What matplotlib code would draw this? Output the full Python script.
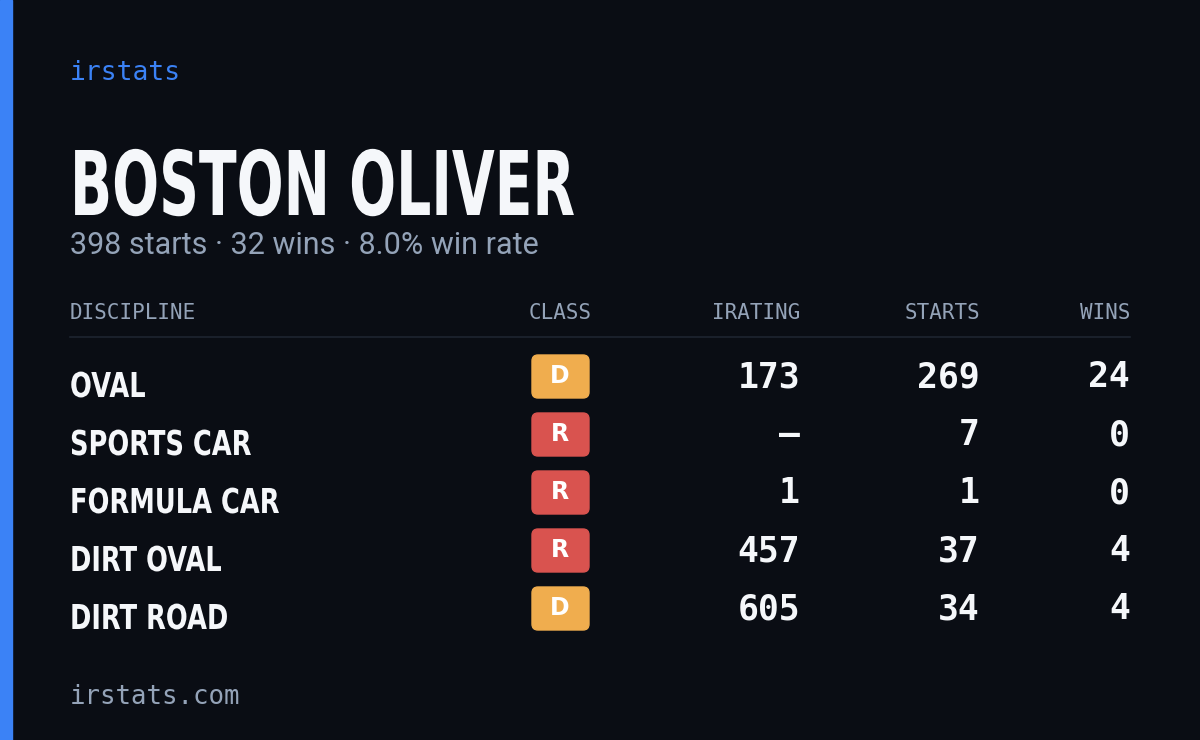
import matplotlib
matplotlib.use('Agg')
import matplotlib.pyplot as plt
from matplotlib.patches import FancyBboxPatch, Rectangle, PathPatch
from matplotlib.textpath import TextPath
from matplotlib.font_manager import FontProperties
from matplotlib.transforms import Affine2D

# data
driver = 'BOSTON OLIVER'
total_starts = 398
total_wins = 32
disciplines = ['OVAL', 'SPORTS CAR', 'FORMULA CAR', 'DIRT OVAL', 'DIRT ROAD']
classes = ['D', 'R', 'R', 'R', 'D']
iratings = [173, None, 1, 457, 605]
starts = [269, 7, 1, 37, 34]
wins = [24, 0, 0, 4, 4]

W, H = 1200, 740
BG = '#0a0d14'
GRAY = '#94a3b8'
WHITE = '#f5f7fa'
BLUE = '#3b82f6'
class_colors = {'D': '#f0ad4e', 'R': '#d9534f'}
MONO = ['DejaVu Sans Mono']

fig = plt.figure(figsize=(W / 100, H / 100), dpi=100, facecolor=BG)
ax = fig.add_axes([0, 0, 1, 1])
ax.set_xlim(0, W)
ax.set_ylim(H, 0)
ax.axis('off')
ax.set_facecolor(BG)

bold = FontProperties(family='DejaVu Sans', weight='bold')
cap_h = TextPath((0, 0), 'H', size=100, prop=bold).get_extents().height


def condensed(x, baseline, s, cap, squeeze, color):
    # text drawn as a path, squeezed horizontally to look like a condensed face
    tp = TextPath((0, 0), s, size=100, prop=bold)
    k = cap / cap_h
    tr = Affine2D().scale(k * squeeze, -k).translate(x, baseline)
    ax.add_patch(PathPatch(tr.transform_path(tp), color=color, lw=0))


ax.add_patch(Rectangle((0, 0), 12, H, color=BLUE))

ax.text(70, 73, 'irstats', family=MONO, fontsize=19, color=BLUE, va='center')
condensed(70, 215, driver, 65, 0.62, WHITE)
rate = 100.0 * total_wins / total_starts
ax.text(70, 245, f'{total_starts} starts · {total_wins} wins · {rate:.1f}% win rate',
        family=['Roboto', 'DejaVu Sans'], fontsize=22, color=GRAY, va='center')

hdr = dict(family=MONO, fontsize=15, color=GRAY, va='center')
ax.text(70, 313, 'DISCIPLINE', ha='left', **hdr)
ax.text(560, 313, 'CLASS', ha='center', **hdr)
ax.text(800, 313, 'IRATING', ha='right', **hdr)
ax.text(980, 313, 'STARTS', ha='right', **hdr)
ax.text(1130, 313, 'WINS', ha='right', **hdr)
ax.plot([70, 1130], [337, 337], color='#1e2430', lw=1.2)

num = dict(family=MONO, fontsize=25, weight='bold', color=WHITE,
           va='center', ha='right')
for i, d in enumerate(disciplines):
    y = 377 + 58 * i
    condensed(70, y + 20, d, 25, 0.75, WHITE)
    ax.add_patch(FancyBboxPatch((532, y - 22), 57, 43,
                                boxstyle='round,pad=0,rounding_size=6',
                                color=class_colors[classes[i]]))
    ax.text(560, y - 1, classes[i], family=['DejaVu Sans'], fontsize=17,
            weight='bold', color='white', ha='center', va='center')
    ir = '—' if iratings[i] is None else str(iratings[i])
    ax.text(800, y, ir, **num)
    ax.text(980, y, str(starts[i]), **num)
    ax.text(1130, y, str(wins[i]), **num)

ax.text(70, 697, 'irstats.com', family=MONO, fontsize=18.5, color=GRAY, va='center')

fig.savefig('out.png', dpi=100, facecolor=BG)
